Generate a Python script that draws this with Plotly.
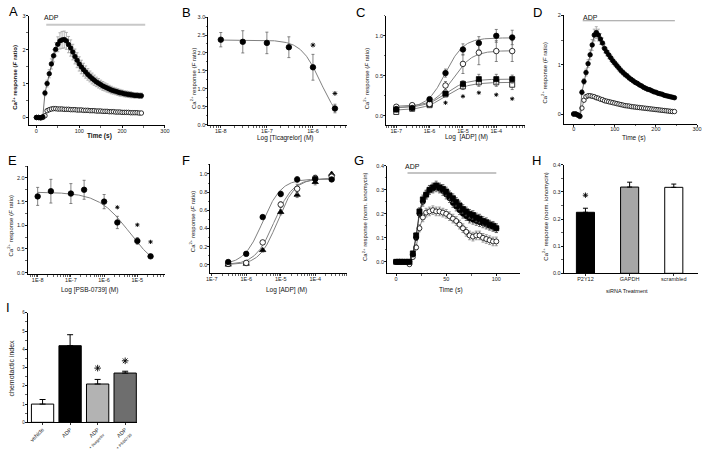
import numpy as np
import plotly.graph_objects as go

W, H = 709, 450
FONT = "Liberation Sans, Arial, Helvetica, sans-serif"

# ---------------- Panel A: time course (ADP vs control) ----------------
a_time = [0, 5, 10, 15, 20, 25, 30, 35, 40, 45, 50, 55, 60, 65, 70, 75, 80, 85, 90, 95,
          100, 105, 110, 115, 120, 125, 130, 135, 140, 145, 150, 155, 160, 165, 170, 175,
          180, 185, 190, 195, 200, 205, 210, 215, 220, 225, 230, 235, 240, 245]
a_adp = [0.0, 0.0, -0.01, 0.02, 0.72, 1.0, 1.29, 1.58, 1.82, 2.01,
         2.16, 2.26, 2.29, 2.30, 2.26, 2.15, 2.05, 1.93, 1.80, 1.69,
         1.58, 1.49, 1.41, 1.34, 1.27, 1.21, 1.15, 1.10, 1.05, 1.01,
         0.97, 0.93, 0.90, 0.87, 0.84, 0.81, 0.79, 0.77, 0.75, 0.73,
         0.72, 0.70, 0.69, 0.68, 0.67, 0.66, 0.65, 0.65, 0.64, 0.64]
a_adp_err = [0.02, 0.02, 0.02, 0.03, 0.08, 0.1, 0.12, 0.15, 0.18, 0.2,
             0.22, 0.24, 0.25, 0.25, 0.25, 0.24, 0.24, 0.23, 0.22, 0.22,
             0.21, 0.2, 0.19, 0.18, 0.17, 0.16, 0.16, 0.15, 0.14, 0.14,
             0.13, 0.13, 0.12, 0.12, 0.11, 0.11, 0.1, 0.1, 0.1, 0.1,
             0.09, 0.09, 0.09, 0.09, 0.09, 0.08, 0.08, 0.08, 0.08, 0.08]
a_ctrl = [0.0, 0.0, -0.01, 0.0, 0.05, 0.2, 0.23, 0.25, 0.26, 0.26,
          0.25, 0.25, 0.25, 0.24, 0.24, 0.24, 0.23, 0.23, 0.23, 0.22,
          0.22, 0.22, 0.21, 0.21, 0.21, 0.2, 0.2, 0.2, 0.19, 0.19,
          0.19, 0.18, 0.18, 0.18, 0.17, 0.17, 0.17, 0.16, 0.16, 0.16,
          0.15, 0.15, 0.15, 0.15, 0.14, 0.14, 0.14, 0.14, 0.13, 0.13]
a_ctrl_err = [0.02, 0.02, 0.02, 0.02, 0.03, 0.03, 0.03, 0.03, 0.03, 0.03,
              0.03, 0.03, 0.03, 0.03, 0.03, 0.03, 0.03, 0.03, 0.03, 0.03,
              0.03, 0.03, 0.03, 0.03, 0.03, 0.03, 0.03, 0.03, 0.03, 0.03,
              0.03, 0.03, 0.03, 0.03, 0.03, 0.03, 0.03, 0.03, 0.03, 0.03,
              0.03, 0.03, 0.03, 0.03, 0.03, 0.03, 0.03, 0.03, 0.03, 0.03]
a_adp_period = [23, 254]
a_adp_level = 2.74

# ---------------- Panel B: ticagrelor inhibition ----------------
b_conc = [1e-8, 3e-8, 1e-7, 3e-7, 1e-6, 3e-6]
b_resp = [2.37, 2.31, 2.28, 2.16, 1.60, 0.45]
b_err = [0.2, 0.31, 0.3, 0.29, 0.36, 0.12]
b_star_conc = [1e-6, 3e-6]
b_star_y = [2.22, 0.87]
b_fit = [0.0, 2.36, 1.47e-6, 2.03]   # bottom, top, IC50, Hill

# ---------------- Panel C: ADP concentration-response ----------------
c_conc = [1e-7, 3e-7, 1e-6, 3e-6, 1e-5, 3e-5, 1e-4, 3e-4]
c_s1 = [0.086, 0.10, 0.21, 0.535, 0.83, 0.91, 1.0, 0.98]
c_s1_err = [0.02, 0.02, 0.02, 0.05, 0.07, 0.08, 0.08, 0.09]
c_s2 = [0.115, 0.135, 0.15, 0.38, 0.65, 0.79, 0.81, 0.81]
c_s2_err = [0.02, 0.02, 0.02, 0.05, 0.12, 0.15, 0.13, 0.13]
c_s3 = [0.08, 0.11, 0.15, 0.28, 0.40, 0.46, 0.46, 0.46]
c_s3_err = [0.02, 0.02, 0.02, 0.03, 0.04, 0.06, 0.06, 0.05]
c_s4 = [0.05, 0.09, 0.135, 0.27, 0.37, 0.42, 0.42, 0.39]
c_s4_err = [0.02, 0.02, 0.02, 0.03, 0.04, 0.05, 0.05, 0.06]
c_star_conc = [3e-6, 1e-5, 3e-5, 1e-4, 3e-4]
c_star_y = [0.165, 0.245, 0.29, 0.265, 0.215]
c_fits = [[0.10, 0.975, 3.0e-6, 1.6],
          [0.12, 0.815, 5.0e-6, 1.5],
          [0.10, 0.46, 3.0e-6, 1.4],
          [0.07, 0.42, 3.0e-6, 1.3]]

# ---------------- Panel D: time course ----------------
d_time = [0, 5, 10, 15, 20, 25, 30, 35, 40, 45, 50, 55, 60, 65, 70, 75, 80, 85, 90, 95,
          100, 105, 110, 115, 120, 125, 130, 135, 140, 145, 150, 155, 160, 165, 170, 175,
          180, 185, 190, 195, 200, 205, 210, 215, 220, 225, 230, 235, 240, 245]
d_adp = [0.0, 0.0, -0.02, -0.04, 0.44, 0.66, 0.84, 1.02, 1.2, 1.4,
         1.6, 1.65, 1.6, 1.52, 1.44, 1.33, 1.26, 1.2, 1.14, 1.08,
         1.03, 0.98, 0.93, 0.88, 0.84, 0.8, 0.77, 0.73, 0.7, 0.67,
         0.64, 0.62, 0.59, 0.57, 0.54, 0.52, 0.5, 0.49, 0.47, 0.45,
         0.44, 0.42, 0.41, 0.4, 0.38, 0.37, 0.36, 0.35, 0.34, 0.33]
d_adp_err = [0.02, 0.02, 0.02, 0.03, 0.05, 0.06, 0.07, 0.08, 0.1, 0.11,
             0.12, 0.12, 0.12, 0.11, 0.1, 0.09, 0.08, 0.08, 0.07, 0.07,
             0.06, 0.06, 0.06, 0.05, 0.05, 0.05, 0.05, 0.04, 0.04, 0.04,
             0.04, 0.04, 0.03, 0.03, 0.03, 0.03, 0.03, 0.03, 0.03, 0.03,
             0.02, 0.02, 0.02, 0.02, 0.02, 0.02, 0.02, 0.02, 0.02, 0.02]
d_ctrl = [0.0, 0.0, -0.02, -0.05, 0.12, 0.28, 0.35, 0.37, 0.37, 0.36,
          0.35, 0.33, 0.32, 0.3, 0.29, 0.27, 0.26, 0.25, 0.24, 0.23,
          0.22, 0.21, 0.2, 0.19, 0.18, 0.17, 0.165, 0.16, 0.15, 0.145,
          0.14, 0.135, 0.13, 0.125, 0.12, 0.115, 0.11, 0.105, 0.1, 0.095,
          0.09, 0.085, 0.08, 0.075, 0.07, 0.065, 0.06, 0.055, 0.05, 0.05]
d_ctrl_err = [0.02, 0.02, 0.02, 0.02, 0.02, 0.03, 0.03, 0.03, 0.03, 0.03,
              0.03, 0.03, 0.02, 0.02, 0.02, 0.02, 0.02, 0.02, 0.02, 0.02,
              0.02, 0.02, 0.02, 0.02, 0.02, 0.02, 0.02, 0.02, 0.02, 0.02,
              0.02, 0.02, 0.02, 0.02, 0.02, 0.02, 0.02, 0.02, 0.02, 0.02,
              0.02, 0.02, 0.02, 0.02, 0.02, 0.02, 0.02, 0.02, 0.02, 0.02]
d_adp_period = [22, 246]
d_adp_level = 1.89

# ---------------- Panel E: PSB-0739 inhibition ----------------
e_conc = [1e-8, 2.5e-8, 1e-7, 2.5e-7, 1e-6, 2.5e-6, 1e-5, 2.5e-5]
e_resp = [1.61, 1.72, 1.67, 1.75, 1.50, 1.06, 0.67, 0.345]
e_err = [0.19, 0.25, 0.21, 0.2, 0.15, 0.13, 0.07, 0.03]
e_star_conc = [2.5e-6, 1e-5, 2.5e-5]
e_star_y = [1.38, 1.01, 0.65]
e_fit = [0.0, 1.70, 5.8e-6, 0.93]

# ---------------- Panel F: ADP concentration-response ----------------
f_conc = [3e-7, 1e-6, 3e-6, 1e-5, 3e-5, 1e-4, 3e-4]
f_s1 = [0.03, 0.12, 0.525, 0.78, 0.94, 0.945, 0.94]
f_s1_err = [0.02, 0.02, 0.02, 0.03, 0.03, 0.02, 0.02]
f_s2 = [0.01, 0.02, 0.246, 0.663, 0.837, 0.956, 0.97]
f_s2_err = [0.02, 0.02, 0.02, 0.03, 0.05, 0.03, 0.03]
f_s3 = [0.0, 0.01, 0.16, 0.58, 0.77, 0.91, 1.0]
f_s3_err = [0.02, 0.02, 0.02, 0.03, 0.03, 0.03, 0.02]
f_fits = [[0.0, 0.945, 3.0e-6, 1.6],
          [0.0, 0.95, 6.5e-6, 1.6],
          [0.0, 0.95, 8.0e-6, 1.7]]

# ---------------- Panel G: time course (norm. ionomycin) ----------------
g_time = [0, 3.3, 6.7, 10, 13.3, 16.7, 20, 23.3, 26.7, 30, 33.3, 36.7, 40, 43.3, 46.7,
          50, 53.3, 56.7, 60, 63.3, 66.7, 70, 73.3, 76.7, 80, 83.3, 86.7, 90, 93.3, 96.7, 100]
g_sq = [0, 0, 0, 0, 0.0, 0.035, 0.11, 0.21, 0.26, 0.28,
        0.30, 0.31, 0.318, 0.31, 0.304, 0.293, 0.277, 0.265, 0.25, 0.235,
        0.22, 0.21, 0.2, 0.195, 0.185, 0.18, 0.17, 0.165, 0.155, 0.15, 0.14]
g_ci = [0, 0, 0, 0, 0.0, 0.03, 0.1, 0.2, 0.25, 0.28,
        0.3, 0.305, 0.31, 0.305, 0.295, 0.28, 0.265, 0.245, 0.23, 0.215,
        0.2, 0.19, 0.18, 0.175, 0.17, 0.165, 0.16, 0.155, 0.15, 0.145, 0.14]
g_open = [0, 0, 0, 0, -0.01, 0.02, 0.06, 0.14, 0.185, 0.205,
          0.21, 0.215, 0.21, 0.21, 0.205, 0.2, 0.19, 0.18, 0.17, 0.155,
          0.14, 0.125, 0.11, 0.105, 0.11, 0.11, 0.1, 0.095, 0.09, 0.085, 0.085]
g_err = [0.003, 0.003, 0.003, 0.003, 0.005, 0.008, 0.01, 0.015, 0.018, 0.018,
         0.018, 0.018, 0.018, 0.018, 0.018, 0.018, 0.018, 0.018, 0.018, 0.018,
         0.018, 0.018, 0.018, 0.018, 0.018, 0.018, 0.018, 0.018, 0.018, 0.018, 0.018]
g_adp_period = [11.4, 100]
g_adp_level = 0.37

# ---------------- Panel H: siRNA bars ----------------
h_labels = ["P2Y12", "GAPDH", "scrambled"]
h_values = [0.225, 0.318, 0.317]
h_err = [0.015, 0.018, 0.012]
h_colors = ["#000000", "#a6a6a6", "#ffffff"]
h_star = [0.288]

# ---------------- Panel I: chemotaxis bars ----------------
i_labels = ["vehicle", "ADP", "ADP + ticagrelor", "ADP + PSB0739"]
i_ticktext = ["vehicle", "ADP",
              "ADP<br><span style='font-size:4px'>+ ticagrelor</span>",
              "ADP<br><span style='font-size:4px'>+ PSB0739</span>"]
i_values = [1.0, 4.2, 2.1, 2.7]
i_err = [0.25, 0.6, 0.25, 0.1]
i_colors = ["#ffffff", "#000000", "#b3b3b3", "#6e6e6e"]
i_star_labels = ["ADP + ticagrelor", "ADP + PSB0739"]
i_star_y = [2.97, 3.37]


# ---------------- helpers ----------------
def hill(conc, bottom, top, c50, n, rising):
    c = np.asarray(conc, dtype=float)
    if rising:
        return bottom + (top - bottom) / (1 + (c50 / c) ** n)
    return bottom + (top - bottom) / (1 + (c / c50) ** n)


def axn(i):
    return ("x", "y") if i == 1 else (f"x{i}", f"y{i}")


FILLED = dict(symbol="circle", color="black", line=dict(color="black", width=0.8))
OPEN = dict(symbol="circle", color="white", line=dict(color="black", width=0.8))
FSQ = dict(symbol="square", color="black", line=dict(color="black", width=0.8))
OSQ = dict(symbol="square", color="white", line=dict(color="black", width=0.8))
FTRI = dict(symbol="triangle-up", color="black", line=dict(color="black", width=0.8))


def err(arr, color="#666666", width=1.5):
    return dict(type="data", array=arr, color=color, thickness=0.8, width=width)


fig = go.Figure()


def scat(i, x, y, marker, size, e=None, mode="markers", line=None, ecolor="#666666"):
    xa, ya = axn(i)
    m = dict(marker)
    m["size"] = size
    fig.add_trace(go.Scatter(x=x, y=y, mode=mode, marker=m, xaxis=xa, yaxis=ya,
                             line=line or dict(color="black", width=0.7),
                             error_y=err(e, ecolor) if e is not None else None,
                             cliponaxis=False, hoverinfo="skip"))


def curve(i, lo, hi, p, rising):
    xa, ya = axn(i)
    xs = np.logspace(np.log10(lo), np.log10(hi), 200)
    fig.add_trace(go.Scatter(x=xs, y=hill(xs, *p, rising), mode="lines",
                             line=dict(color="#808080", width=1), xaxis=xa, yaxis=ya,
                             hoverinfo="skip"))


def stars(i, x, y, size=4):
    xa, ya = axn(i)
    fig.add_trace(go.Scatter(x=x, y=y, mode="markers", xaxis=xa, yaxis=ya,
                             marker=dict(symbol="asterisk", size=size,
                                         line=dict(color="black", width=0.9)),
                             cliponaxis=False, hoverinfo="skip"))


def hbar(i, period, level, color, width):
    xa, ya = axn(i)
    fig.add_trace(go.Scatter(x=period, y=[level, level], mode="lines", xaxis=xa, yaxis=ya,
                             line=dict(color=color, width=width), hoverinfo="skip"))


# Panel A
hbar(1, a_adp_period, a_adp_level, "#c8c8c8", 2)
scat(1, a_time, a_ctrl, OPEN, 4.5, a_ctrl_err, "lines+markers",
     dict(color="#555555", width=0.7), "#999999")
scat(1, a_time, a_adp, FILLED, 4.5, a_adp_err, "lines+markers",
     dict(color="#333333", width=0.7), "#a0a0a0")

# Panel B
curve(2, b_conc[0], b_conc[-1], b_fit, False)
scat(2, b_conc, b_resp, FILLED, 5.5, b_err)
stars(2, b_star_conc, b_star_y)

# Panel C
for p in c_fits:
    curve(3, c_conc[0], c_conc[-1], p, True)
scat(3, c_conc, c_s4, OSQ, 5, c_s4_err)
scat(3, c_conc, c_s3, FSQ, 5, c_s3_err)
scat(3, c_conc, c_s2, OPEN, 5.5, c_s2_err)
scat(3, c_conc, c_s1, FILLED, 5.5, c_s1_err)
stars(3, c_star_conc, c_star_y, 3.5)

# Panel D
hbar(4, d_adp_period, d_adp_level, "#9a9a9a", 1.2)
scat(4, d_time, d_ctrl, OPEN, 4.5, d_ctrl_err, "lines+markers",
     dict(color="#555555", width=0.7), "#999999")
scat(4, d_time, d_adp, FILLED, 4.5, d_adp_err, "lines+markers",
     dict(color="#333333", width=0.7), "#a0a0a0")

# Panel E
curve(5, e_conc[0], e_conc[-1], e_fit, False)
scat(5, e_conc, e_resp, FILLED, 5.5, e_err)
stars(5, e_star_conc, e_star_y, 3.5)

# Panel F
for p in f_fits:
    curve(6, f_conc[0], f_conc[-1], p, True)
scat(6, f_conc, f_s3, FTRI, 5.5, f_s3_err)
scat(6, f_conc, f_s2, OPEN, 5.5, f_s2_err)
scat(6, f_conc, f_s1, FILLED, 5.5, f_s1_err)

# Panel G
hbar(7, g_adp_period, g_adp_level, "#b0b0b0", 1.5)
scat(7, g_time, g_open, OPEN, 5, g_err, "lines+markers", dict(color="#555555", width=0.7), "#888888")
scat(7, g_time, g_ci, FILLED, 5, g_err, "lines+markers", dict(color="#222222", width=0.7), "#555555")
scat(7, g_time, g_sq, FSQ, 5, g_err, "lines+markers", dict(color="#222222", width=0.7), "#555555")

# Panel H
fig.add_trace(go.Bar(x=h_labels, y=h_values, width=0.41, xaxis="x8", yaxis="y8",
                     marker=dict(color=h_colors, line=dict(color="black", width=1)),
                     error_y=dict(type="data", symmetric=False, array=h_err,
                                  arrayminus=[0] * len(h_err), color="black",
                                  thickness=1, width=2.5), hoverinfo="skip"))
stars(8, [h_labels[0]], h_star, 4.5)

# Panel I
fig.add_trace(go.Bar(x=i_labels, y=i_values, width=0.81, xaxis="x9", yaxis="y9",
                     marker=dict(color=i_colors, line=dict(color="black", width=1)),
                     error_y=dict(type="data", symmetric=False, array=i_err,
                                  arrayminus=[0] * len(i_err), color="black",
                                  thickness=1, width=3), hoverinfo="skip"))
stars(9, i_star_labels, i_star_y, 5.5)


# ---------------- axes ----------------
def dom(x0, x1, y0, y1):
    return [x0 / W, x1 / W], [1 - y1 / H, 1 - y0 / H]


def base_axis(standoff, **kw):
    d = dict(showline=True, linecolor="black", linewidth=1, ticks="outside", ticklen=2,
             tickwidth=0.8, tickcolor="black", showgrid=False, zeroline=False,
             ticklabelstandoff=standoff,
             tickfont=dict(family=FONT, size=5.5, color="#222222"), fixedrange=True)
    d.update(kw)
    return d


def log_minor(lo, hi):
    vals = [m * 10.0 ** k for k in range(lo, hi) for m in range(2, 10)]
    return dict(ticks="outside", ticklen=1.5, tickwidth=0.6, tickcolor="black", tickvals=vals)


def lin_minor(step):
    return dict(ticks="outside", ticklen=1.5, tickwidth=0.6, tickcolor="black", dtick=step)


def logx(rng, exps):
    return dict(type="log", range=rng, tickvals=[10.0 ** k for k in exps],
                ticktext=[f"1E{k}" for k in exps], minor=log_minor(exps[0] - 1, exps[-1] + 1))


spec = {
    1: ((25, 163, 13, 124),
        dict(range=[-18, 300], tickvals=[0, 100, 200, 300], minor=lin_minor(50)),
        dict(range=[-0.233, 3], tickvals=[0, 1, 2, 3], minor=lin_minor(0.5))),
    2: ((207, 347, 14, 124), logx([-8.27, -5.27], [-8, -7, -6]),
        dict(range=[-0.02, 3.008], dtick=0.5, tickformat=".1f", minor=lin_minor(0.25))),
    3: ((387, 528, 13, 124), logx([-7.305, -3.13], [-7, -6, -5, -4]),
        dict(range=[-0.117, 1.25], tickvals=[0, 0.5, 1.0], tickformat=".1f", minor=lin_minor(0.25))),
    4: ((567, 702, 12.5, 122.5),
        dict(range=[-24, 300], tickvals=[0, 100, 200, 300], minor=lin_minor(50)),
        dict(range=[-0.2, 2.0], tickvals=[0, 1, 2], minor=lin_minor(0.5))),
    5: ((24, 163, 165, 275), logx([-8.3, -4.17], [-8, -7, -6, -5]),
        dict(range=[-0.035, 2.256], tickvals=[0, 0.5, 1.0, 1.5, 2.0], tickformat=".1f",
             minor=lin_minor(0.25))),
    6: ((209, 347, 163, 274), logx([-7.04, -3.09], [-7, -6, -5, -4]),
        dict(range=[-0.095, 1.112], tickvals=[0, 0.2, 0.4, 0.6, 0.8, 1.0], tickformat=".1f",
             minor=lin_minor(0.1))),
    7: ((388, 523, 165, 274),
        dict(range=[-9, 124], tickvals=[0, 50, 100], minor=lin_minor(25)),
        dict(range=[-0.048, 0.4], tickvals=[0, 0.1, 0.2, 0.3, 0.4], tickformat=".1f",
             minor=lin_minor(0.05))),
    8: ((567, 703, 164, 274),
        dict(type="category", range=[-0.49, 2.55]),
        dict(range=[0, 0.4], tickvals=[0, 0.1, 0.2, 0.3, 0.4], tickformat=".1f",
             minor=lin_minor(0.05))),
    9: ((24, 135, 314, 425),
        dict(type="category", range=[-0.54, 3.44], tickvals=i_labels, ticktext=i_ticktext,
             tickangle=-45, tickfont=dict(family=FONT, size=5.5, color="#222222")),
        dict(range=[0, 6], tickvals=[0, 1, 2, 3, 4, 5, 6], minor=lin_minor(0.5),
             tickfont=dict(family=FONT, size=4.5, color="#222222"))),
}

layout_axes = {}
for i, (box, xs, ys) in spec.items():
    xd, yd = dom(*box)
    xa, ya = axn(i)
    xso = -1 if i == 9 else -2
    layout_axes["xaxis" if i == 1 else f"xaxis{i}"] = base_axis(xso, domain=xd, anchor=ya, **xs)
    layout_axes["yaxis" if i == 1 else f"yaxis{i}"] = base_axis(-1, domain=yd, anchor=xa, **ys)


# ---------------- annotations ----------------
def ann_px(text, x, y, size, angle=0, color="#111111"):
    return dict(text=text, x=x / W, y=1 - y / H, xref="paper", yref="paper", showarrow=False,
                textangle=angle, xanchor="center", yanchor="middle",
                font=dict(family=FONT, size=size, color=color))


CA_F = "Ca<sup>2+</sup> response (<i>F</i> ratio)"
CA_N = "Ca<sup>2+</sup> response (norm. ionomycin)"
anns = []
for letter, x, y in [("A", 9.5, 9), ("B", 185, 9.5), ("C", 361.5, 9.5), ("D", 540, 9.5),
                     ("E", 9, 159.5), ("F", 184, 159.5), ("G", 360, 159.5), ("H", 539, 159.5),
                     ("I", 4.5, 309)]:
    anns.append(ann_px(letter, x, y, 13, color="black"))

anns += [
    ann_px("<b>" + CA_F + "</b>", 11, 75, 6, -90),
    ann_px("<b>Time (s)</b>", 97, 135, 6.5),
    ann_px(CA_F, 191.5, 77, 6, -90),
    ann_px("Log [Ticagrelor] (M)", 285, 136.5, 6.5),
    ann_px(CA_F, 367, 77, 6, -90),
    ann_px("Log  [ADP] (M)", 468, 136, 6.5),
    ann_px(CA_F, 547, 71.5, 6, -90),
    ann_px("Time (s)", 638, 136.5, 6.5),
    ann_px(CA_F, 7, 225.5, 6, -90),
    ann_px("Log [PSB-0739] (M)", 87, 291, 6.5),
    ann_px(CA_F, 190, 221.5, 6, -90),
    ann_px("Log [ADP] (M)", 286.5, 291, 6.5),
    ann_px(CA_N, 365, 216.5, 6, -90),
    ann_px("Time (s)", 453, 290.5, 6.5),
    ann_px(CA_N, 548, 216.5, 6, -90),
    ann_px("siRNA Treatment", 631.5, 292, 5.5),
    ann_px("chemotactic index", 7.5, 370, 7, -90),
]

for xa, ya, x, y in [("x", "y", 36, 2.94), ("x4", "y4", 41, 1.95), ("x7", "y7", 16.3, 0.397)]:
    anns.append(dict(text="ADP", x=x, y=y, xref=xa, yref=ya, showarrow=False,
                     xanchor="center", yanchor="middle",
                     font=dict(family=FONT, size=7, color="#111111")))

fig.update_layout(width=W, height=H, margin=dict(l=0, r=0, t=0, b=0),
                  paper_bgcolor="white", plot_bgcolor="white", showlegend=False,
                  annotations=anns, font=dict(family=FONT), **layout_axes)

fig.write_html("out.html",
               config={"displayModeBar": False, "staticPlot": True},
               post_script="document.body.style.margin='0px';"
                           "document.body.style.overflow='hidden';")
